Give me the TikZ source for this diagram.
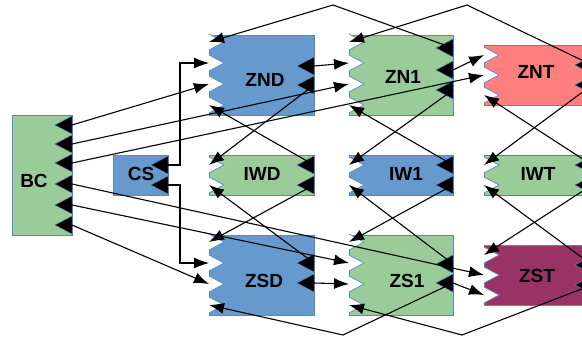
\documentclass[tikz,border=0pt]{standalone}
\usepackage{fontspec}
\setmainfont{Liberation Sans}
\usetikzlibrary{arrows.meta}
\definecolor{zgreen}{HTML}{99CC99}
\definecolor{zblue}{HTML}{6699CC}
\definecolor{zred}{HTML}{FF7F7F}
\definecolor{zpurple}{HTML}{993366}
\definecolor{zedge}{HTML}{5A86C6}
\definecolor{zpink}{HTML}{C0507F}
\begin{document}
\begin{tikzpicture}[x=1pt,y=1pt,
  box/.style={draw=zedge,line width=1pt,inner sep=0pt},
  lbl/.style={font=\fontsize{19}{19}\selectfont\bfseries,inner sep=0pt},
  notch/.style={fill=white,draw=zedge,line width=0.7pt,line join=round},
  outport/.style={fill=black,draw=zedge,line width=0.5pt},
  wire/.style={black,line width=1.1pt,-{Latex[length=15pt,width=11pt]}}]
\useasboundingbox (0,0) rectangle (582,-338);
\clip (0,0) rectangle (582,-338);
% blocks
\node[box,fill=zgreen,minimum width=60pt,minimum height=120pt] (BC) at (42,-175) {};
\node[box,fill=zblue,minimum width=55pt,minimum height=40pt] (CS) at (140.5,-175) {};
\node[box,fill=zblue,minimum width=105pt,minimum height=80pt] (ZND) at (261.5,-75) {};
\node[box,fill=zgreen,minimum width=104pt,minimum height=80pt] (ZN1) at (401,-75) {};
\node[box,fill=zred,minimum width=108pt,minimum height=60pt] (ZNT) at (538,-75) {};
\node[box,fill=zgreen,minimum width=105pt,minimum height=40pt] (IWD) at (261.5,-175) {};
\node[box,fill=zblue,minimum width=104pt,minimum height=40pt] (IW1) at (401,-175) {};
\node[box,fill=zgreen,draw=zpink,minimum width=108pt,minimum height=40pt] (IWT) at (538,-175) {};
\node[box,fill=zblue,minimum width=105pt,minimum height=80pt] (ZSD) at (261.5,-275) {};
\node[box,fill=zgreen,minimum width=104pt,minimum height=80pt] (ZS1) at (401,-275) {};
\node[box,fill=zpurple,minimum width=108pt,minimum height=60pt] (ZST) at (538,-275) {};
\node[lbl] (BC-t) at (34,-181) {BC};
\node[lbl] (CS-t) at (141,-174) {CS};
\node[lbl] (ZND-t) at (265,-80) {ZND};
\node[lbl] (ZN1-t) at (403,-77) {ZN1};
\node[lbl] (ZNT-t) at (536,-72) {ZNT};
\node[lbl] (IWD-t) at (262,-174) {IWD};
\node[lbl] (IW1-t) at (406,-174) {IW1};
\node[lbl] (IWT-t) at (538,-174) {IWT};
\node[lbl] (ZSD-t) at (264,-281) {ZSD};
\node[lbl] (ZS1-t) at (407,-281) {ZS1};
\node[lbl] (ZST-t) at (537,-276) {ZST};
% ports: inputs on the left, outputs on the right
\foreach \b/\x/\ys in {ZND/209/{42,63,84,105},ZN1/349/{42,63,84,105},ZNT/484/{55,75,95},
  IWD/209/{165,185},IW1/349/{165,185},IWT/484/{165,185},
  ZSD/209/{242,263,284,305},ZS1/349/{242,263,284,305},ZST/484/{255,275,295}}
  \foreach \y [count=\k] in \ys {
    \coordinate (\b-i\k) at (\x,-\y);
    \filldraw[notch] (\x,-\y+8) -- ++(15,-8) -- ++(-15,-8);
  }
\foreach \b/\x/\ys in {BC/72/{125,144,163,184,205,225},CS/168/{165,185},
  ZND/314/{66,85},ZN1/453/{48,70,90},ZNT/592/{65,85},
  IWD/314/{165,185},IW1/453/{165,185},IWT/592/{165,185},
  ZSD/314/{263,283},ZS1/453/{264,283},ZST/592/{265,285}}
  \foreach \y [count=\k] in \ys {
    \coordinate (\b-o\k) at (\x,-\y);
    \filldraw[outport] (\x,-\y+9) -- ++(-17,-9) -- ++(17,-9) -- cycle;
  }
\coordinate (pk1) at (333,-5);
\coordinate (pk2) at (467,-5);
\coordinate (vl1) at (343,-335);
\coordinate (vl2) at (462,-335);
% connections
\draw[wire] (BC-o1) -- (ZND-i3);
\draw[wire] (BC-o2) -- (ZN1-i3);
\draw[wire] (BC-o3) -- (ZNT-i2);
\draw[wire] (BC-o4) -- (ZST-i2);
\draw[wire] (BC-o5) -- (ZS1-i2);
\draw[wire] (BC-o6) -- (ZSD-i3);
\draw[wire] (CS-o1) -- ++(12,0) |- (ZND-i2);
\draw[wire] (CS-o2) -- ++(12,0) |- (ZSD-i2);
\draw[wire] (ZND-o1) -- (ZN1-i2);
\draw[wire] (ZND-o2) -- (IWD-i1);
\draw[wire] (IWD-o1) -- (ZND-i4);
\draw[wire] (ZN1-o1) -- (pk1) -- (ZND-i1);
\draw[wire] (ZN1-o2) -- (ZNT-i1);
\draw[wire] (ZN1-o3) -- (IW1-i1);
\draw[wire] (IW1-o1) -- (ZN1-i4);
\draw[wire] (ZNT-o1) -- (pk2) -- (ZN1-i1);
\draw[wire] (ZNT-o2) -- (IWT-i1);
\draw[wire] (IWT-o1) -- (ZNT-i3);
\draw[wire] (IWD-o2) -- (ZSD-i1);
\draw[wire] (ZSD-o1) -- (IWD-i2);
\draw[wire] (ZSD-o2) -- (ZS1-i3);
\draw[wire] (IW1-o2) -- (ZS1-i1);
\draw[wire] (ZS1-o1) -- (IW1-i2);
\draw[wire] (ZS1-o2) -- (ZST-i3);
\draw[wire] (ZS1-o2) -- (vl1) -- (ZSD-i4);
\draw[wire] (IWT-o2) -- (ZST-i1);
\draw[wire] (ZST-o1) -- (IWT-i2);
\draw[wire] (ZST-o2) -- (vl2) -- (ZS1-i4);
\end{tikzpicture}
\end{document}
